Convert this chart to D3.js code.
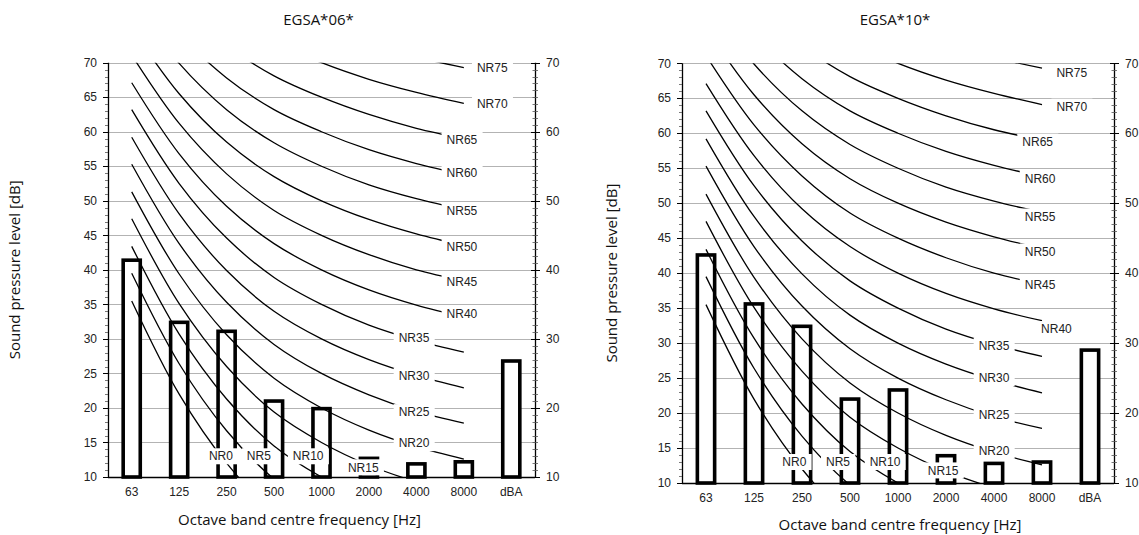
<!DOCTYPE html>
<html>
<head>
<meta charset="utf-8">
<script src="https://cdn.jsdelivr.net/npm/d3@7/dist/d3.min.js"></script>
<style>
  html, body { margin: 0; padding: 0; background: #fff; }
  svg { display: block; }
</style>
</head>
<body>
<svg id="chart" width="1139" height="535"></svg>
<script>
// ---------------- DATA ----------------
const categories = ["63", "125", "250", "500", "1000", "2000", "4000", "8000", "dBA"];
const nrFreqs = ["63", "125", "250", "500", "1000", "2000", "4000", "8000"];
const nrNames = ["NR0","NR5","NR10","NR15","NR20","NR25","NR30","NR35","NR40","NR45","NR50","NR55","NR60","NR65","NR70","NR75"];
// NR curve levels (dB) at 63..8000 Hz
const nr0  = [35.5, 22.0, 12.0,  4.8,  0.0, -3.5, -6.1, -8.0];
const nr5  = [39.5, 26.4, 16.7,  9.7,  5.0,  1.6, -1.0, -2.9];
const nr10 = [43.4, 30.7, 21.3, 14.5, 10.0,  6.7,  4.2,  2.3];
const nr15 = [47.4, 35.1, 26.0, 19.4, 15.0, 11.7,  9.3,  7.5];
const nr20 = [51.3, 39.4, 30.6, 24.3, 20.0, 16.8, 14.4, 12.6];
const nr25 = [55.3, 43.8, 35.3, 29.2, 25.0, 21.9, 19.5, 17.8];
const nr30 = [59.2, 48.1, 39.9, 34.0, 30.0, 27.0, 24.7, 22.9];
const nr35 = [63.2, 52.5, 44.6, 38.9, 35.0, 32.0, 29.8, 28.1];
const nr40 = [67.1, 56.8, 49.2, 43.8, 40.0, 37.1, 34.9, 33.2];
const nr45 = [71.1, 61.2, 53.9, 48.6, 45.0, 42.2, 40.0, 38.4];
const nr50 = [75.0, 65.5, 58.5, 53.5, 50.0, 47.3, 45.2, 43.5];
const nr55 = [79.0, 69.9, 63.2, 58.4, 55.0, 52.3, 50.3, 48.7];
const nr60 = [82.9, 74.2, 67.8, 63.2, 60.0, 57.4, 55.4, 53.8];
const nr65 = [86.9, 78.6, 72.5, 68.1, 65.0, 62.5, 60.5, 59.0];
const nr70 = [90.8, 82.9, 77.1, 73.0, 70.0, 67.6, 65.7, 64.1];
const nr75 = [94.8, 87.3, 81.8, 77.9, 75.0, 72.6, 70.8, 69.3];
const nrCurves = [nr0, nr5, nr10, nr15, nr20, nr25, nr30, nr35, nr40, nr45, nr50, nr55, nr60, nr65, nr70, nr75];

// measured levels (dB)
const barsEGSA06 = [41.4, 32.4, 31.1, 21.0, 19.9, 12.7, 11.9, 12.2, 26.8];
const barsEGSA10 = [42.6, 35.6, 32.4, 22.0, 23.3, 13.9, 12.8, 13.0, 29.0];

// NR label anchors: [category index (fractional), dB]
const labels06 = [[1.88,13.0],[2.68,13.0],[3.72,13.0],[4.88,11.4],[5.95,14.9],[5.95,19.4],[5.95,24.7],[5.95,30.1],
                  [6.96,33.7],[6.96,38.2],[6.96,43.3],[6.96,48.5],[6.96,54.0],[6.96,58.8],[7.6,64.0],[7.6,69.3]];
const labels10 = [[1.84,13.0],[2.75,13.0],[3.73,13.0],[4.94,11.8],[6.0,14.6],[6.0,19.7],[6.0,25.0],[6.0,29.6],
                  [7.3,32.0],[6.96,38.3],[6.96,43.1],[6.96,48.1],[6.96,53.5],[6.91,58.8],[7.62,63.8],[7.62,68.6]];

const yDomain = [10, 70];
const yTicksLeft = [10, 15, 20, 25, 30, 35, 40, 45, 50, 55, 60, 65, 70];
const yTicksRight = [10, 20, 30, 40, 50, 60, 70];
const yMinorTicks = d3.range(10, 71, 1);
const titles = ["EGSA*06*", "EGSA*10*"];
const yTitle = "Sound pressure level [dB]";
const xTitle = "Octave band centre frequency [Hz]";

// ---------------- DRAW ----------------
const svg = d3.select("#chart");
const tickFont = "'Liberation Sans', Arial, sans-serif";
const titleFont = "'Open Sans', sans-serif";

function drawChart(cfg, idx) {
  const { x0, x1, yTop, yBot, bars, labels, title, yTitleX, xLabelY, xTitleY, xTitleShift } = cfg;
  const g = svg.append("g");

  const xBand = d3.scaleBand().domain(categories).range([x0, x1]).paddingInner(0).paddingOuter(0);
  const xLin = d3.scaleLinear().domain([-0.5, categories.length - 0.5]).range([x0, x1]);
  const y = d3.scaleLinear().domain(yDomain).range([yBot, yTop]);
  const bw = xBand.bandwidth();

  const clipId = "clip" + idx;
  svg.append("clipPath").attr("id", clipId)
    .append("rect").attr("x", x0).attr("y", yTop).attr("width", x1 - x0).attr("height", yBot - yTop);

  // gridlines
  g.append("g").selectAll("line").data(yTicksLeft.filter(d => d > 10)).join("line")
    .attr("x1", x0).attr("x2", x1)
    .attr("y1", d => Math.round(y(d)) + 0.5).attr("y2", d => Math.round(y(d)) + 0.5)
    .attr("stroke", "#b3b3b3").attr("stroke-width", 1);

  // bars
  const barW = bw * 0.36;
  g.append("g").selectAll("rect").data(bars).join("rect")
    .attr("x", (d, i) => xBand(categories[i]) + bw / 2 - barW / 2)
    .attr("width", barW)
    .attr("y", d => y(d))
    .attr("height", d => y(yDomain[0]) - y(d))
    .attr("fill", "#fff").attr("stroke", "#000").attr("stroke-width", 3.6)
    .attr("stroke-linejoin", "miter");

  // NR curves
  const line = d3.line()
    .x((d, i) => xBand(nrFreqs[i]) + bw / 2)
    .y(d => y(d))
    .curve(d3.curveCatmullRom.alpha(0.5));
  g.append("g").attr("clip-path", `url(#${clipId})`)
    .selectAll("path").data(nrCurves).join("path")
    .attr("d", d => line(d))
    .attr("fill", "none").attr("stroke", "#000").attr("stroke-width", 1.3);

  // axis lines
  g.append("line").attr("x1", x0 + 0.5).attr("x2", x0 + 0.5).attr("y1", yTop).attr("y2", yBot)
    .attr("stroke", "#000").attr("stroke-width", 1.3);
  g.append("line").attr("x1", x1 + 0.5).attr("x2", x1 + 0.5).attr("y1", yTop).attr("y2", yBot)
    .attr("stroke", "#000").attr("stroke-width", 1.3);
  g.append("line").attr("x1", x0).attr("x2", x1).attr("y1", Math.round(yBot) + 0.5).attr("y2", Math.round(yBot) + 0.5)
    .attr("stroke", "#000").attr("stroke-width", 1.3);

  // left ticks
  g.append("g").selectAll("line").data(yMinorTicks).join("line")
    .attr("x1", x0 - 3).attr("x2", x0)
    .attr("y1", d => Math.round(y(d)) + 0.5).attr("y2", d => Math.round(y(d)) + 0.5)
    .attr("stroke", "#555").attr("stroke-width", 0.8);
  g.append("g").selectAll("line").data(yTicksLeft).join("line")
    .attr("x1", x0 - 5).attr("x2", x0)
    .attr("y1", d => Math.round(y(d)) + 0.5).attr("y2", d => Math.round(y(d)) + 0.5)
    .attr("stroke", "#000").attr("stroke-width", 1);
  g.append("g").selectAll("text").data(yTicksLeft).join("text")
    .attr("x", x0 - 11).attr("y", d => y(d)).attr("dy", "0.35em")
    .attr("text-anchor", "end")
    .style("font-family", tickFont).style("font-size", "12px").attr("fill", "#222")
    .text(d => d);

  // right ticks
  g.append("g").selectAll("line").data(yMinorTicks).join("line")
    .attr("x1", x1 - 2.5).attr("x2", x1 + 3)
    .attr("y1", d => Math.round(y(d)) + 0.5).attr("y2", d => Math.round(y(d)) + 0.5)
    .attr("stroke", "#555").attr("stroke-width", 0.8);
  g.append("g").selectAll("line").data(yTicksRight).join("line")
    .attr("x1", x1 - 4).attr("x2", x1 + 5)
    .attr("y1", d => Math.round(y(d)) + 0.5).attr("y2", d => Math.round(y(d)) + 0.5)
    .attr("stroke", "#000").attr("stroke-width", 1);
  g.append("g").selectAll("text").data(yTicksRight).join("text")
    .attr("x", x1 + 11).attr("y", d => y(d)).attr("dy", "0.35em")
    .attr("text-anchor", "start")
    .style("font-family", tickFont).style("font-size", "12px").attr("fill", "#222")
    .text(d => d);

  // x labels
  g.append("g").selectAll("text").data(categories).join("text")
    .attr("x", d => xBand(d) + bw / 2).attr("y", xLabelY).attr("dy", "0.35em")
    .attr("text-anchor", "middle")
    .style("font-family", tickFont).style("font-size", "12px").attr("fill", "#222")
    .text(d => d);

  // NR labels with white boxes
  const lg = g.append("g");
  labels.forEach((p, i) => {
    const cx = xLin(p[0]), cy = y(p[1]);
    const t = lg.append("text")
      .attr("x", cx).attr("y", cy).attr("dy", "0.35em")
      .attr("text-anchor", "middle")
      .style("font-family", tickFont).style("font-size", "12px").attr("fill", "#222")
      .text(nrNames[i]);
    const bb = t.node().getBBox();
    lg.insert("rect", "text")
      .attr("x", bb.x - 5).attr("y", cy - 8)
      .attr("width", bb.width + 10).attr("height", 16)
      .attr("fill", "#fff");
  });
  lg.selectAll("text").raise();

  // titles
  const cxPlot = (x0 + x1) / 2;
  g.append("text").attr("x", cxPlot - 3).attr("y", 20).attr("dy", "0.35em")
    .attr("text-anchor", "middle")
    .style("font-family", titleFont).style("font-size", "15px").attr("fill", "#111")
    .text(title);
  g.append("text").attr("x", cxPlot + xTitleShift).attr("y", xTitleY).attr("dy", "0.35em")
    .attr("text-anchor", "middle")
    .style("font-family", titleFont).style("font-size", "15px").attr("fill", "#111")
    .text(xTitle);
  g.append("text")
    .attr("transform", `translate(${yTitleX},${(yTop + yBot) / 2}) rotate(-90)`)
    .attr("dy", "0.35em")
    .attr("text-anchor", "middle")
    .style("font-family", titleFont).style("font-size", "15px").attr("fill", "#111")
    .text(yTitle);
}

drawChart({ x0: 108, x1: 535, yTop: 62.7, yBot: 477, bars: barsEGSA06, labels: labels06,
            title: titles[0], yTitleX: 15, xLabelY: 492, xTitleY: 520, xTitleShift: -22 }, 0);
drawChart({ x0: 682, x1: 1114, yTop: 63.3, yBot: 483, bars: barsEGSA10, labels: labels10,
            title: titles[1], yTitleX: 612, xLabelY: 498, xTitleY: 525, xTitleShift: 2 }, 1);
</script>
</body>
</html>
